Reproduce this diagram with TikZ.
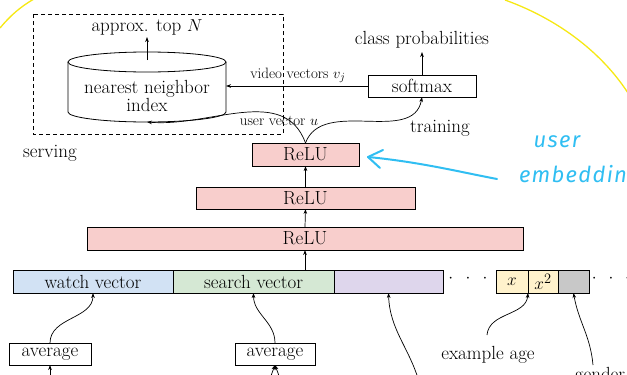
\documentclass[tikz,border=0pt]{standalone}
\usepackage{fontspec}
\newfontfamily\handfont[LetterSpace=6]{Fira Sans}
\usetikzlibrary{arrows.meta}
\definecolor{relured}{RGB}{248,206,204}
\definecolor{watchblue}{RGB}{210,226,244}
\definecolor{searchgreen}{RGB}{213,232,212}
\definecolor{featpurple}{RGB}{222,214,236}
\definecolor{ageyellow}{RGB}{255,242,204}
\definecolor{featgray}{RGB}{200,200,200}
\definecolor{handblue}{RGB}{48,190,242}
\definecolor{markyellow}{RGB}{246,232,20}
\begin{document}
\begin{tikzpicture}[x=1pt,y=1pt,
  every node/.style={font=\fontsize{19}{18}\selectfont, inner sep=0pt, outer sep=0pt},
  blk/.style={draw, line width=0.8pt, minimum height=23pt},
  arr/.style={-{Stealth[length=5pt,width=3.6pt]}, line width=0.7pt},
  lbl/.style={font=\fontsize{15}{15}\selectfont},
  hand/.style={handblue, line width=2pt, line cap=round, line join=round},
  hw/.style={text=handblue, font=\handfont\itshape\fontsize{22}{22}\selectfont},
  yel/.style={markyellow, line width=1.3pt}]
\useasboundingbox (0,0) rectangle (627,-375);
\clip (0,0) rectangle (627,-375);

% serving box
\draw[line width=0.8pt, dash pattern=on 4pt off 3pt] (33,-14) rectangle (283,-134);
\node (serving) at (50,-153) {serving};
\node (training) at (440,-128) {training};

% cylinder
\node[minimum width=158pt, minimum height=50pt] (nn) at (147,-87) {};
\draw[line width=0.8pt] (nn.north) ellipse [x radius=79, y radius=10];
\draw[line width=0.8pt] (nn.north west) -- (nn.south west)
  arc[start angle=180, end angle=360, x radius=79, y radius=10] -- (nn.north east);
\node[align=center] (nntext) at (147,-96.4) {nearest neighbor\\index};
\coordinate (nnb) at ([yshift=-10pt]nn.south);
\coordinate (nntop) at (147,-37);
\draw[arr] ([yshift=2pt]nn.north) -- (nntop);
\node (topn) at (147,-27) {approx. top $N$};

% softmax
\node[blk, minimum width=108pt, minimum height=22pt] (sm) at (422,-86) {softmax};
\coordinate (smtop) at (422,-52);
\draw[arr] (sm.north) -- (smtop);
\node (cprob) at (422,-40) {class probabilities};
\draw[arr] (sm.west) -- (sm.west -| nn.east);
\node[lbl] (vv) at (298,-75) {video vectors $v_j$};
\node[lbl] (uv) at (279,-121) {user vector $u$};

% ReLU stack
\node[blk, fill=relured, minimum width=107pt] (r3) at (305.5,-154.5) {ReLU};
\node[blk, fill=relured, minimum width=219pt, minimum height=22pt] (r2) at (305.5,-198) {ReLU};
\node[blk, fill=relured, minimum width=436pt] (r1) at (305,-238.5) {ReLU};
\draw[arr] (r1.north) -- (r2.south);
\draw[arr] (r2.north) -- (r3.south);
\draw[arr] (r3.north) to[out=70, in=-100] (sm.south);
\draw[arr] (r3.north) to[out=110, in=-5] (nnb);

% feature row
\node[blk, fill=watchblue, minimum width=160pt] (watch) at (93,-281.5) {watch vector};
\node[blk, fill=searchgreen, minimum width=161pt] (search) at (253.5,-281.5) {search vector};
\node[blk, fill=featpurple, minimum width=109pt] (purple) at (388.5,-281.5) {};
\node[blk, fill=ageyellow, minimum width=32pt] (xa) at (512,-281.5) {$x$};
\node[blk, fill=ageyellow, minimum width=30pt] (xb) at (543,-281.5) {$x^2$};
\node[blk, fill=featgray, minimum width=31pt] (gray) at (573.5,-281.5) {};
\node (dots1) at (468,-279) {$\cdot\hspace{8.5pt}\cdot\hspace{8.5pt}\cdot$};
\node (dots2) at (611,-279) {$\cdot\hspace{8pt}\cdot\hspace{8pt}\cdot$};
\draw[arr] (r1.south |- search.north) -- (r1.south);

% inputs
\node[blk, minimum width=82pt, minimum height=22pt] (av1) at (50,-354) {average};
\node[blk, minimum width=80pt, minimum height=22pt] (av2) at (275,-354) {average};
\draw[arr] (av1.north) to[out=90, in=-90] (watch.south);
\draw[arr] (av2.north) to[out=90, in=-90] (search.south);
\coordinate (b1) at (50,-400);
\coordinate (b2) at (262,-400);
\coordinate (b3) at (288,-400);
\draw[arr] (b1) -- (av1.south);
\draw[arr] (b2) -- (av2.south);
\draw[arr] (b3) -- (av2.south);
\coordinate (pb) at (420,-385);
\draw[arr] (pb) to[out=105, in=-88] (purple.south);
\node (age) at (488,-355) {example age};
\coordinate (agetop) at (487,-335);
\draw[arr] (agetop) to[out=85, in=-95] (xa.south east);
\node (gender) at (600,-376) {gender};
\coordinate (gtop) at (593,-365);
\draw[arr] (gtop) to[out=95, in=-80] (gray.south);

% handwritten annotation
\draw[hand] (497,-179) .. controls (460,-172) and (420,-162) .. (368,-157);
\draw[hand] (383,-150) -- (368,-157) -- (380,-168);
\node[hw] (hw1) at (557,-142) {user};
\node[hw, anchor=west] (hw2) at (519,-176) {embedding};

% yellow marker
\draw[yel] (0,-28) .. controls (10,-16) and (20,-7) .. (34,1);
\draw[yel] (505,0) .. controls (555,-18) and (600,-50) .. (628,-93);
\end{tikzpicture}
\end{document}
